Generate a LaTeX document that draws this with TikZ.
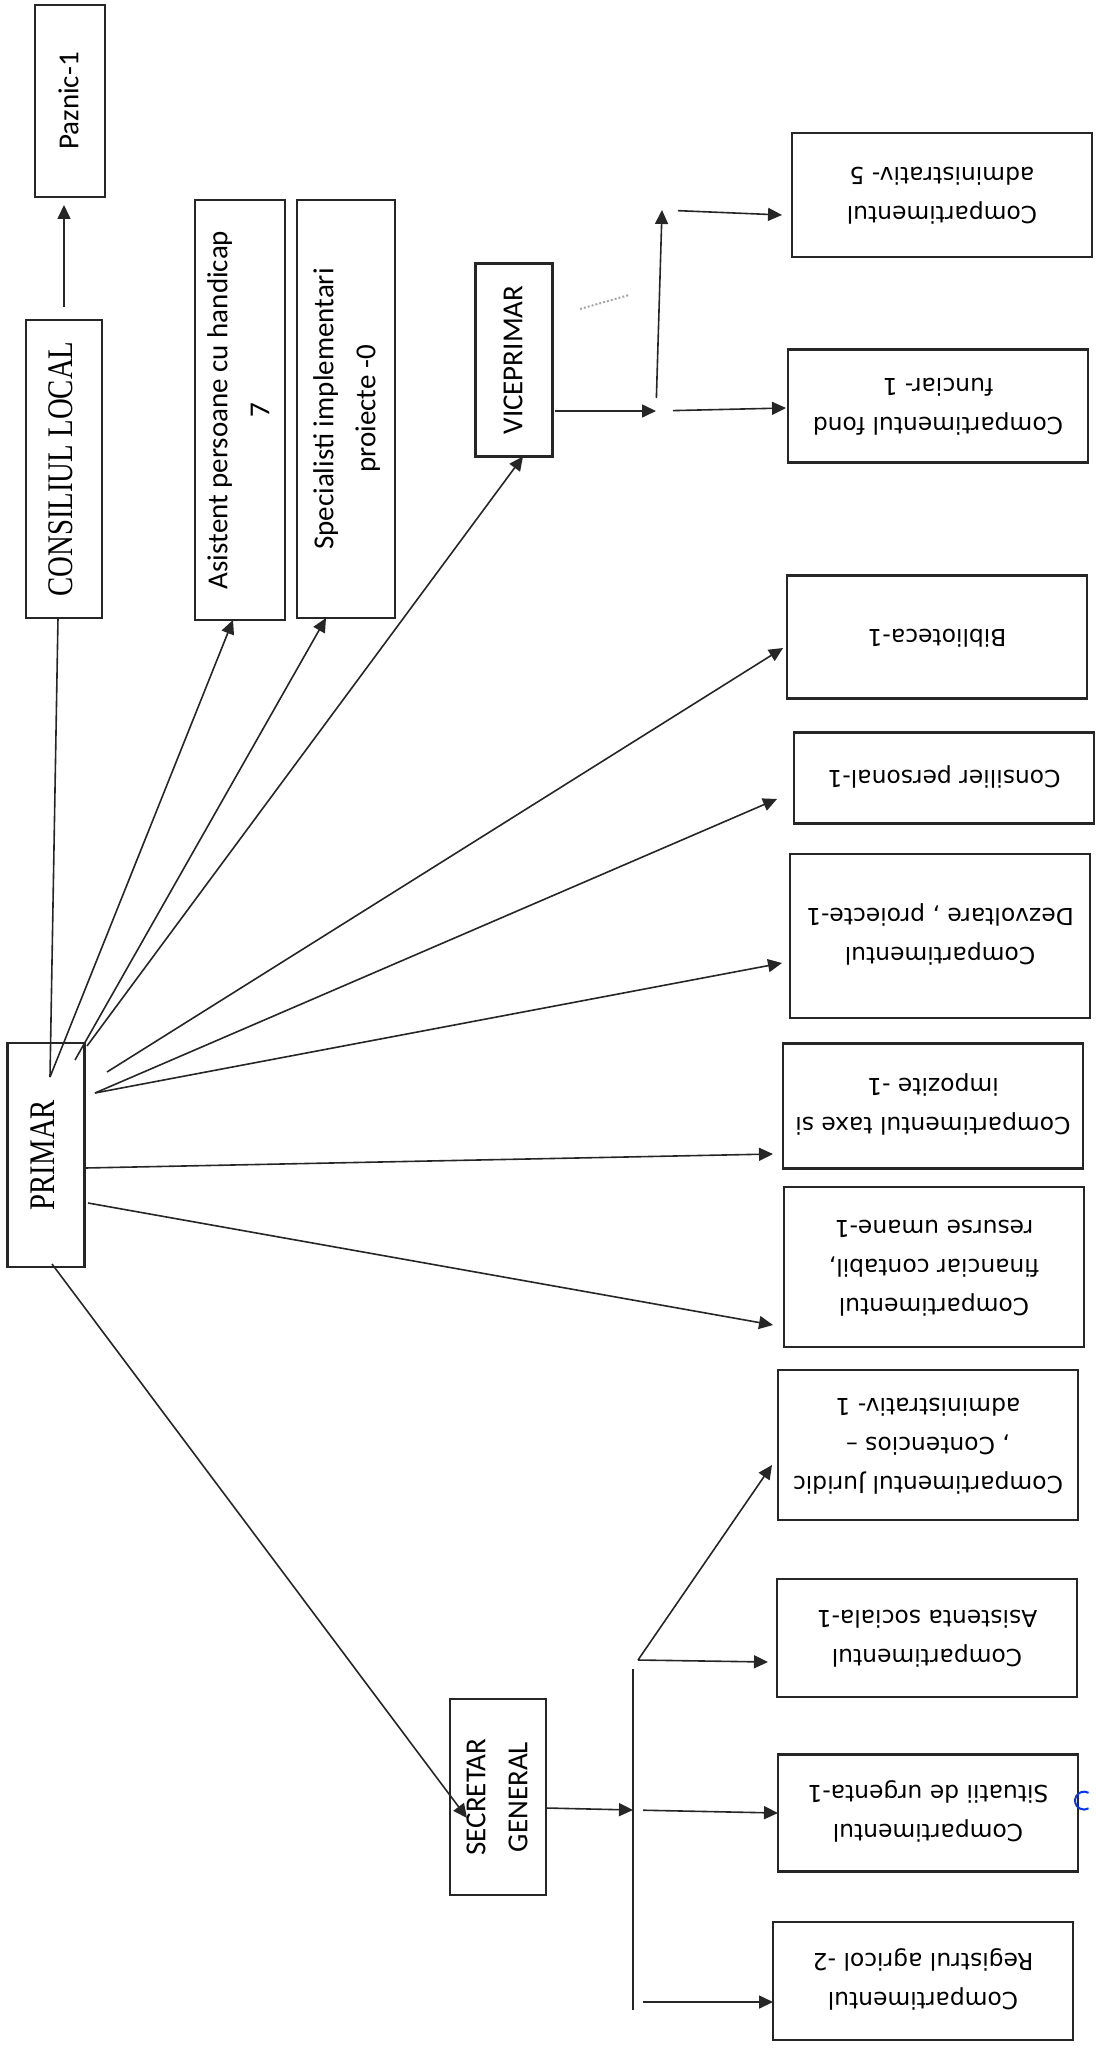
\documentclass[tikz,border=0pt]{standalone}
\usepackage{fontspec}
\usepackage{graphicx}
\newfontfamily\deptfont{DejaVu Sans}
\newfontfamily\rolefont{Carlito}
\newfontfamily\headfont[FakeStretch=0.8]{Liberation Serif}
\usetikzlibrary{arrows.meta, calc}

% text turned a quarter (left column) or upside down (right column)
\newcommand{\uptext}[1]{\rotatebox{90}{\begin{tabular}{@{}c@{}}#1\end{tabular}}}
\newcommand{\fliptext}[1]{\rotatebox{180}{\begin{tabular}{@{}c@{}}#1\end{tabular}}}

\tikzset{
    unitbox/.style={draw=black!85, line width=1.1pt, inner sep=0pt, outer sep=0pt},
    dept/.style={unitbox, minimum width=150pt, minimum height=#1,
        font=\deptfont\fontsize{11.7}{19.5}\selectfont},
    role/.style 2 args={unitbox, minimum width=#1, minimum height=#2,
        font=\rolefont\fontsize{14.5}{21}\selectfont},
    head/.style 2 args={unitbox, minimum width=#1, minimum height=#2,
        font=\headfont\fontsize{18}{21}\selectfont},
    link/.style={draw=black!85, line width=0.8pt},
    arr/.style={link, -{Triangle[length=7pt,width=6.5pt]}},
}

\begin{document}
\begin{tikzpicture}[x=0.5pt, y=-0.5pt]
    \useasboundingbox (0,0) rectangle (1096,2048);

    % Left column
    \node[role={35pt}{96pt}] (paznic) at (70,101) {\uptext{Paznic-1}};
    \node[head={38pt}{149pt}] (consiliu) at (64,469) {\uptext{CONSILIUL LOCAL}};
    \node[role={45pt}{210pt}] (asistent) at (240,410) {\uptext{Asistent persoane cu handicap\\7}};
    \node[role={49pt}{209pt}] (specialisti) at (346,409) {\uptext{Specialisti implementari\\proiecte -0}};
    \node[role={38.5pt}{96.5pt}] (viceprimar) at (514,360) {\uptext{VICEPRIMAR}};
    \node[head={38.5pt}{112pt}] (primar) at (46,1155) {\uptext{PRIMAR}};
    \node[role={48pt}{98pt}] (secretar) at (498,1797) {\uptext{SECRETAR\\GENERAL}};

    % Right column
    \node[dept=62pt] (admin5) at (942,195) {\fliptext{Compartimentul\\administrativ- 5}};
    \node[dept=56.5pt] (fond) at (938,406) {\fliptext{Compartimentul fond\\funciar- 1}};
    \node[dept=61.5pt] (biblio) at (937,637) {\fliptext{Biblioteca-1}};
    \node[dept=45.5pt] (consilier) at (944,778) {\fliptext{Consilier personal-1}};
    \node[dept=82pt] (dezvoltare) at (940,936) {\fliptext{Compartimentul\\Dezvoltare , proiecte-1}};
    \node[dept=62.5pt] (taxe) at (933,1106) {\fliptext{Compartimentul taxe si\\impozite -1}};
    \node[dept=80pt] (financiar) at (934,1267) {\fliptext{Compartimentul\\financiar contabil,\\resurse umane-1}};
    \node[dept=75pt] (juridic) at (928,1445) {\fliptext{Compartimentul Juridic\\, Contencios –\\administrativ- 1}};
    \node[dept=59pt] (sociala) at (927,1638) {\fliptext{Compartimentul\\Asistenta sociala-1}};
    \node[dept=58.5pt] (situatii) at (928,1813) {\fliptext{Compartimentul\\Situatii de urgenta-1}};
    \node[dept=59pt] (registru) at (923,1981) {\fliptext{Compartimentul\\Registrul agricol -2}};

    % Points inside PRIMAR where the lines start
    \coordinate (ptop) at (50,1077);
    \coordinate (pb) at (75,1060);
    \coordinate (pc) at (87,1046);
    \coordinate (pd) at (107,1072);
    \coordinate (pe) at (95,1093);
    \coordinate (pf) at (85,1168);
    \coordinate (pg) at (88,1203);
    \coordinate (ph) at (52,1264);

    \draw[arr, shorten <=6.5pt, shorten >=4pt] (consiliu.north) -- (consiliu.north |- paznic.south);
    \draw[link] ([xshift=-3pt]consiliu.south) -- (ptop);
    \draw[arr] (ptop) -- ([xshift=-3.5pt]asistent.south);
    \draw[arr] (pb) -- ([xshift=-10pt]specialisti.south);
    \draw[arr] (pc) -- ([xshift=4.5pt]viceprimar.south);
    \draw[arr] (pd) -- ([xshift=-2pt,yshift=-5.5pt]biblio.west);
    \draw[arr] (pe) -- ([xshift=-8.5pt,yshift=-10.5pt]consilier.west);
    \draw[arr] (pe) -- ([xshift=-4pt,yshift=-13.5pt]dezvoltare.west);
    \draw[arr] (pf) -- ([xshift=-5pt,yshift=-24pt]taxe.west);
    \draw[arr] (pg) -- ([xshift=-5.5pt,yshift=-29pt]financiar.west);
    \draw[arr] (ph) -- ([xshift=8.5pt,yshift=-10.5pt]secretar.west);

    % Viceprimar branch
    \coordinate (vsplit) at (656,411);
    \coordinate (vtop) at (662,210);
    \draw[arr, shorten <=1pt] ([yshift=-25.5pt]viceprimar.east) -- (vsplit);
    \draw[arr, shorten <=6.5pt] (vsplit) -- (vtop);
    \draw[arr, shorten <=8pt] (vtop) -- ([xshift=-5pt,yshift=-10pt]admin5.west);
    \draw[arr, shorten <=8.5pt] (vsplit) -- ([xshift=-1pt,yshift=-1pt]fond.west);
    \coordinate (smudgeA) at (580,309);
    \coordinate (smudgeB) at (629,295);
    \draw[black!35, line width=1pt, densely dotted] (smudgeA) -- (smudgeB);

    % Secretar branch
    \coordinate (bustop) at (633,1669);
    \coordinate (busmid) at (633,1810);
    \coordinate (buslow) at (633,2002);
    \coordinate (busbot) at (633,2010);
    \coordinate (jfork) at (638,1660);
    \draw[arr] ([yshift=-5.5pt]secretar.east) -- (busmid);
    \draw[link] (bustop) -- (busbot);
    \draw[arr] (jfork) -- ([xshift=-3pt,yshift=-10pt]juridic.west);
    \draw[arr] (jfork) -- ([xshift=-4.5pt,yshift=-12pt]sociala.west);
    \draw[arr, shorten <=5pt] (busmid) -- (situatii.west);
    \draw[arr, shorten <=5pt] (buslow) -- ([yshift=-10.5pt]registru.west);
    \draw[blue!80!cyan, line width=1pt] (1088.5,1792.8) arc[start angle=60, end angle=300, radius=4.5pt];
\end{tikzpicture}
\end{document}
